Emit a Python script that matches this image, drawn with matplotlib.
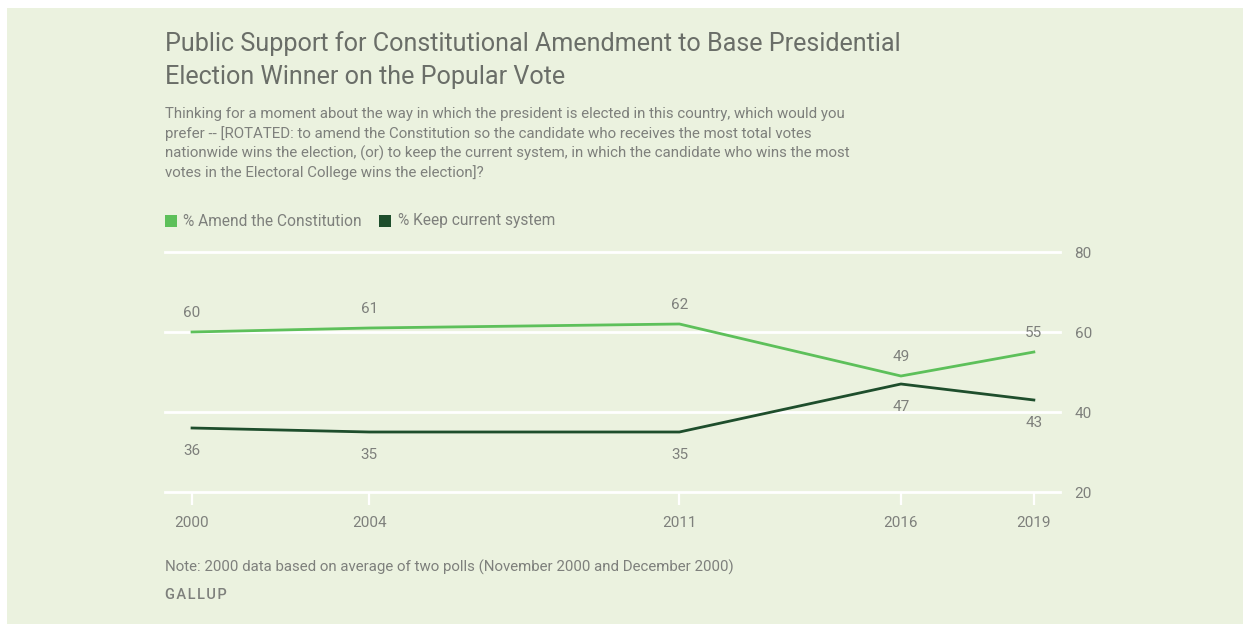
import matplotlib
matplotlib.use("Agg")
import matplotlib.pyplot as plt

years = [2000, 2004, 2011, 2016, 2019]
amend = [60, 61, 62, 49, 55]
keep = [36, 35, 35, 47, 43]
yticks = [20, 40, 60, 80]

BG = "#EBF2DF"
LIGHT = "#5DC05A"
DARK = "#1E4E2C"
GREY = "#7E807C"
TITLE = "#6A6E68"

W, H = 1250, 629
plt.rcParams['font.family'] = ['Roboto', 'DejaVu Sans']

fig = plt.figure(figsize=(W / 100, H / 100), dpi=100)
fig.patch.set_facecolor("white")
# light green panel
fig.add_artist(plt.Rectangle((7 / W, 1 - 624 / H), (1243 - 7) / W, (624 - 8) / H,
                             transform=fig.transFigure, facecolor=BG, edgecolor="none", zorder=0))

def fx(x):
    return x / W

def fy(y):
    return 1 - y / H

ax = fig.add_axes([fx(165), fy(492), (1060 - 165) / W, (492 - 252) / H])
ax.set_facecolor("none")
ax.set_xlim(1999.39, 2019.59)
ax.set_ylim(20, 80)
for s in ax.spines.values():
    s.set_visible(False)
for v in yticks:
    ax.axhline(v, color="white", lw=2.0, zorder=1, clip_on=False)

ax.plot(years, amend, color=LIGHT, lw=2.0, zorder=3, clip_on=False)
ax.plot(years, keep, color=DARK, lw=2.0, zorder=3, clip_on=False)

for x, a, k in zip(years, amend, keep):
    ax.annotate(str(a), (x, a), xytext=(0, 13.5), textcoords="offset points",
                ha="center", va="center", fontsize=11, color=GREY)
    ax.annotate(str(k), (x, k), xytext=(0, -16.5), textcoords="offset points",
                ha="center", va="center", fontsize=11, color=GREY)

ax.set_xticks(years)
ax.set_xticklabels([str(y) for y in years])
ax.set_yticks(yticks)
ax.set_yticklabels([str(v) for v in yticks])
ax.yaxis.tick_right()
ax.tick_params(axis="y", length=0, pad=10.5, labelsize=11, labelcolor=GREY)
ax.tick_params(axis="x", length=9, width=1.6, color="white", direction="out",
               pad=8, labelsize=11, labelcolor=GREY)
ax.grid(False)

fig.text(fx(165), fy(44), "Public Support for Constitutional Amendment to Base Presidential",
         fontsize=18.05, color=TITLE, va="center", ha="left")
fig.text(fx(165), fy(77), "Election Winner on the Popular Vote",
         fontsize=18.05, color=TITLE, va="center", ha="left")

sub = ["Thinking for a moment about the way in which the president is elected in this country, which would you",
       "prefer -- [ROTATED: to amend the Constitution so the candidate who receives the most total votes",
       "nationwide wins the election, (or) to keep the current system, in which the candidate who wins the most",
       "votes in the Electoral College wins the election]?"]
for i, line in enumerate(sub):
    fig.text(fx(165), fy(114 + i * 19.5), line, fontsize=10.8, color=GREY, va="center", ha="left")

# legend
fig.add_artist(plt.Rectangle((fx(165), fy(227)), 12 / W, 12 / H, transform=fig.transFigure,
                             facecolor=LIGHT, edgecolor="none"))
fig.text(fx(183), fy(221), "% Amend the Constitution", fontsize=11.2, color=GREY, va="center", ha="left")
fig.add_artist(plt.Rectangle((fx(379), fy(227)), 12 / W, 12 / H, transform=fig.transFigure,
                             facecolor=DARK, edgecolor="none"))
fig.text(fx(398), fy(221), "% Keep current system", fontsize=11.2, color=GREY, va="center", ha="left")

fig.text(fx(165), fy(567), "Note: 2000 data based on average of two polls (November 2000 and December 2000)",
         fontsize=10.8, color=GREY, va="center", ha="left")
fig.text(fx(165), fy(595), "\u200a".join("GALLUP"), fontsize=10.5, color=GREY,
         va="center", ha="left", fontweight="medium", family=['Roboto', 'DejaVu Sans'])

fig.savefig("out.png", dpi=100, facecolor="white")
